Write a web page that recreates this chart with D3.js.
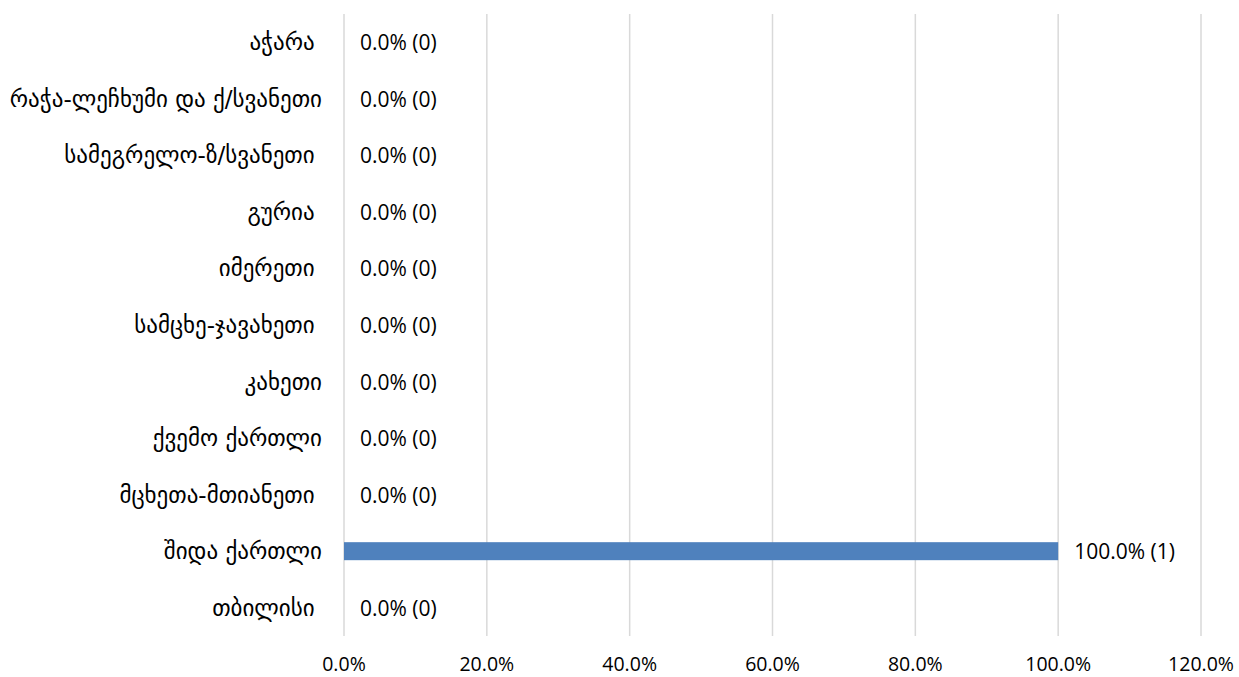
<!DOCTYPE html>
<html><head><meta charset="utf-8">
<script src="https://cdn.jsdelivr.net/npm/d3@7"></script>
<style>body{margin:0;background:#fff;}svg{display:block;}text{font-family:"Open Sans","DejaVu Sans",sans-serif;fill:#000;}
.cat{font-family:"DejaVu Sans",sans-serif;white-space:pre;}</style>
</head><body>
<svg id="c" width="1239" height="677"></svg>
<script>
const categories = ["აჭარა ","რაჭა-ლეჩხუმი და ქ/სვანეთი","სამეგრელო-ზ/სვანეთი ","გურია ","იმერეთი ","სამცხე-ჯავახეთი ","კახეთი","ქვემო ქართლი","მცხეთა-მთიანეთი ","შიდა ქართლი","თბილისი "];
const percents = [0,0,0,0,0,0,0,0,0,100,0];
const counts = [0,0,0,0,0,0,0,0,0,1,0];
const ticks = [0,20,40,60,80,100,120];

const svg = d3.select("#c");
const x = d3.scaleLinear().domain([0,120]).range([344,1201]);
const y = d3.scaleBand().domain(categories).range([14,636]).paddingInner(0.68).paddingOuter(0.34);

const gx = svg.append("g");
gx.selectAll("line").data(ticks).join("line")
  .attr("x1",d=>x(d)).attr("x2",d=>x(d)).attr("y1",14).attr("y2",636)
  .attr("stroke","#d9d9d9").attr("stroke-width",1.5);
gx.selectAll("text").data(ticks).join("text")
  .attr("x",d=>x(d)).attr("y",663).attr("text-anchor","middle").attr("dominant-baseline","central")
  .attr("font-size",19.5).text(d=>d.toFixed(1)+"%");

svg.append("g").selectAll("rect").data(categories).join("rect")
  .attr("x",x(0)).attr("y",d=>y(d)+y.bandwidth()/2-9)
  .attr("width",(d,i)=>x(percents[i])-x(0)).attr("height",18)
  .attr("fill","#4f81bd");

svg.append("g").selectAll("text").data(categories).join("text").attr("class","cat")
  .attr("x",322).attr("y",d=>y(d)+y.bandwidth()/2).attr("text-anchor","end").attr("dominant-baseline","central")
  .attr("font-size",23).text(d=>d);

svg.append("g").selectAll("text").data(categories).join("text")
  .attr("x",(d,i)=>x(percents[i])+16).attr("y",d=>y(d)+y.bandwidth()/2).attr("dominant-baseline","central")
  .attr("font-size",21).text((d,i)=>percents[i].toFixed(1)+"% ("+counts[i]+")");
</script>
</body></html>
